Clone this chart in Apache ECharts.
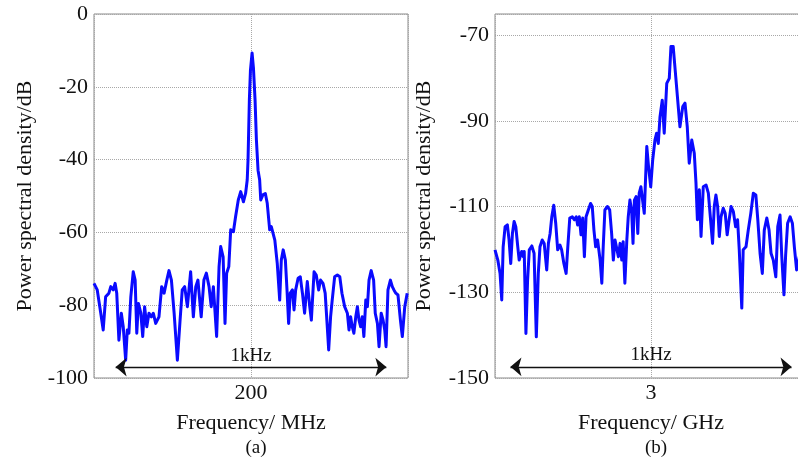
<!DOCTYPE html>
<html>
<head>
<meta charset="utf-8">
<script src="https://cdn.jsdelivr.net/npm/echarts@6/dist/echarts.min.js"></script>
<style>
html,body{margin:0;padding:0;background:#fff;overflow:hidden;width:798px;height:463px;}
#c{width:810px;height:463px;}
</style>
</head>
<body>
<div id="c"></div>
<script>
// Panel (a): offset from 200 MHz carrier (Hz) and PSD (dB)
const leftHz = [-580,-568,-555,-546,-537,-525,-518,-509,-502,-496,
-488,-479,-472,-463,-457,-451,-444,-435,-428,-422,
-416,-407,-400,-393,-385,-377,-368,-361,-352,-340,
-330,-321,-311,-303,-294,-284,-272,-262,-254,-245,
-235,-223,-213,-204,-196,-184,-174,-165,-155,-147,
-139,-127,-118,-112,-103,-96,-90,-82,-75,-65,
-57,-47,-38,-28,-20,-14,-11,-6,-2,4,
9,15,20,26,32,36,44,53,60,69,
75,81,88,97,106,112,119,127,133,139,
145,153,159,165,174,182,190,198,208,217,
223,233,241,250,257,266,274,281,287,294,
300,309,319,328,336,346,356,362,368,374,
380,387,393,399,405,411,417,424,430,436,
444,453,459,467,473,481,488,494,499,506,
515,522,528,535,543,552,559,568,577];
const leftDb = [-74.0,-75.8,-82.2,-86.8,-77.7,-76.7,-74.9,-75.8,-74.0,-76.7,
-89.6,-82.2,-85.9,-95.1,-86.8,-87.7,-77.7,-70.8,-73.1,-87.7,
-79.5,-82.2,-88.6,-80.4,-85.9,-82.2,-83.2,-82.2,-85.0,-83.2,
-74.9,-76.7,-73.1,-70.5,-73.1,-82.2,-95.1,-84.1,-75.8,-74.9,
-80.4,-70.8,-83.2,-74.9,-73.1,-83.2,-73.1,-71.2,-74.9,-80.4,
-74.9,-88.6,-69.4,-63.9,-66.7,-85.0,-71.2,-69.4,-59.3,-59.8,
-55.7,-51.1,-48.8,-51.6,-49.3,-45.6,-40.1,-23.6,-15.4,-10.7,
-14.8,-23.6,-34.6,-42.9,-45.6,-51.1,-49.7,-49.3,-52.0,-59.3,
-58.4,-58.9,-62.1,-68.5,-78.6,-67.6,-64.8,-67.6,-75.8,-85.0,
-76.7,-75.8,-81.3,-75.8,-72.6,-72.2,-76.7,-82.2,-73.5,-80.4,
-84.1,-70.8,-71.7,-75.8,-73.1,-74.0,-76.7,-85.0,-92.3,-83.2,
-78.6,-72.2,-71.7,-72.2,-76.7,-80.4,-82.2,-86.8,-83.2,-85.9,
-87.7,-83.2,-80.4,-84.1,-85.9,-83.2,-88.6,-78.6,-80.4,-73.1,
-70.5,-73.1,-82.2,-85.0,-91.4,-82.2,-84.1,-86.8,-91.4,-75.8,
-73.1,-74.9,-75.8,-76.7,-77.2,-84.1,-88.6,-80.4,-76.7];

// Panel (b): offset from 3 GHz carrier (Hz) and PSD (dB)
const rightHz = [-555,-545,-537,-531,-526,-519,-511,-505,-499,-493,
-487,-481,-474,-469,-460,-454,-451,-445,-439,-433,
-424,-416,-408,-401,-395,-387,-380,-371,-365,-359,
-353,-346,-339,-332,-324,-318,-310,-302,-296,-289,
-280,-273,-266,-261,-255,-249,-243,-237,-231,-223,
-215,-209,-203,-197,-190,-181,-175,-170,-164,-155,
-147,-140,-134,-128,-122,-116,-110,-104,-99,-93,
-86,-81,-75,-69,-64,-59,-53,-47,-42,-36,
-30,-24,-15,-9,-1,6,14,20,26,32,
40,47,56,65,71,79,88,95,103,113,
121,129,136,145,154,160,165,172,178,186,
196,204,212,219,225,231,237,243,249,257,
264,271,278,285,293,301,308,314,323,328,
338,346,355,364,373,380,388,396,403,412,
420,427,435,444,451,459,465,473,479,486,
495,503,510,518,530];
const rightDb = [-120.1,-122.5,-125.6,-131.8,-119.4,-114.7,-114.3,-117.8,-123.3,-116.3,
-113.5,-114.7,-119.4,-122.5,-120.5,-121.7,-120.5,-139.6,-127.1,-120.1,
-119.2,-120.9,-140.4,-125.6,-119.4,-117.8,-118.6,-124.8,-118.6,-116.3,
-112.4,-109.7,-113.9,-120.1,-119.0,-120.1,-123.3,-125.6,-119.4,-112.7,
-112.4,-113.1,-112.4,-114.3,-112.4,-116.6,-112.7,-121.7,-112.4,-110.8,
-109.3,-110.0,-115.5,-119.4,-117.8,-122.5,-127.9,-119.4,-110.8,-110.0,
-110.8,-116.3,-122.5,-117.8,-117.4,-121.7,-118.6,-122.5,-118.2,-127.9,
-117.8,-112.4,-108.5,-110.8,-118.6,-108.5,-107.7,-116.3,-106.9,-105.4,
-108.5,-111.6,-96.0,-100.5,-105.4,-99.2,-94.5,-92.9,-95.3,-89.1,
-85.2,-92.9,-81.3,-80.1,-72.7,-72.7,-79.7,-85.2,-91.4,-86.7,
-85.9,-91.4,-99.9,-94.5,-97.6,-104.5,-113.1,-106.1,-117.0,-105.4,
-105.0,-106.9,-113.1,-118.6,-110.0,-107.3,-110.0,-117.0,-112.4,-110.4,
-111.6,-116.6,-113.1,-110.0,-111.2,-114.7,-113.1,-120.1,-133.7,-120.1,
-119.4,-115.5,-111.6,-106.9,-107.3,-113.1,-120.9,-125.6,-115.5,-112.7,
-115.5,-120.9,-122.5,-126.4,-114.7,-112.0,-121.3,-130.6,-121.3,-113.9,
-112.4,-113.9,-119.4,-124.8,-121.0];

const leftCenterLabel = '200';
const rightCenterLabel = '3';
const spanLabel = '1kHz';

const FONT = 'Liberation Serif';
const TXT = '#111';

const chart = echarts.init(document.getElementById('c'), null, {renderer:'canvas'});

function xAxisCfg(idx, ext, centerLabel, name) {
  return {
    gridIndex: idx, type: 'value', min: -ext, max: ext, interval: ext,
    axisLine: {show: false}, axisTick: {show: false},
    splitLine: {show: true, lineStyle: {type: 'dotted', color: '#a8a8a8', width: 1}},
    axisLabel: {formatter: v => (v === 0 ? centerLabel : ''), fontFamily: FONT, fontSize: 22, color: TXT, margin: 4,
      showMinLabel: true, showMaxLabel: true},
    name: name, nameLocation: 'middle', nameGap: 34,
    nameTextStyle: {fontFamily: FONT, fontSize: 22, color: TXT}
  };
}
function yAxisCfg(idx, min, max, gap) {
  return {
    gridIndex: idx, type: 'value', min: min, max: max, interval: 20,
    axisLine: {show: false}, axisTick: {show: false},
    splitLine: {show: true, lineStyle: {type: 'dotted', color: '#a8a8a8', width: 1}},
    axisLabel: {formatter: v => (Math.abs(v - Math.round(v)) < 1e-6 && Math.round(v) % 10 === 0 ? String(Math.round(v)) : ''),
      fontFamily: FONT, fontSize: 22, color: TXT, margin: 6},
    name: 'Power spectral density/dB', nameLocation: 'middle', nameGap: gap, nameRotate: 90,
    nameTextStyle: {fontFamily: FONT, fontSize: 22, color: TXT}
  };
}
function arrowLine(y) {
  return {
    silent: true,
    symbol: ['arrow', 'arrow'],
    symbolSize: [14, 11],
    lineStyle: {color: '#111', width: 1.3, type: 'solid'},
    label: {show: true, position: 'insideMiddleTop', formatter: spanLabel, fontFamily: FONT, fontSize: 19, color: TXT, distance: 2},
    data: [[{coord: [-500, y]}, {coord: [500, y]}]]
  };
}

const option = {
  backgroundColor: '#fff',
  animation: false,
  title: [
    {text: '(a)', left: 251, top: 434, textAlign: 'center', textStyle: {fontFamily: FONT, fontSize: 19, fontWeight: 'normal', color: TXT}},
    {text: '(b)', left: 651, top: 434, textAlign: 'center', textStyle: {fontFamily: FONT, fontSize: 19, fontWeight: 'normal', color: TXT}}
  ],
  grid: [
    {left: 94, right: 402, top: 14, bottom: 85, show: true, borderColor: '#8a8a8a', borderWidth: 1, backgroundColor: '#fff'},
    {left: 495, right: 3, top: 14, bottom: 85, show: true, borderColor: '#8a8a8a', borderWidth: 1, backgroundColor: '#fff'}
  ],
  xAxis: [
    xAxisCfg(0, 580, leftCenterLabel, 'Frequency/ MHz'),
    xAxisCfg(1, 555, rightCenterLabel, 'Frequency/ GHz')
  ],
  yAxis: [
    yAxisCfg(0, -100, 0, 58),
    yAxisCfg(1, -150, -65.1, 60)
  ],
  series: [
    {type: 'line', xAxisIndex: 0, yAxisIndex: 0, showSymbol: false, symbol: 'none',
     data: leftHz.map((x, i) => [x, leftDb[i]]),
     lineStyle: {color: '#0a0aff', width: 3, join: 'round'},
     markLine: arrowLine(-97)},
    {type: 'line', xAxisIndex: 1, yAxisIndex: 1, showSymbol: false, symbol: 'none',
     data: rightHz.map((x, i) => [x, rightDb[i]]),
     lineStyle: {color: '#0a0aff', width: 3, join: 'round'},
     markLine: arrowLine(-147.4)}
  ]
};
chart.setOption(option);
</script>
</body>
</html>
